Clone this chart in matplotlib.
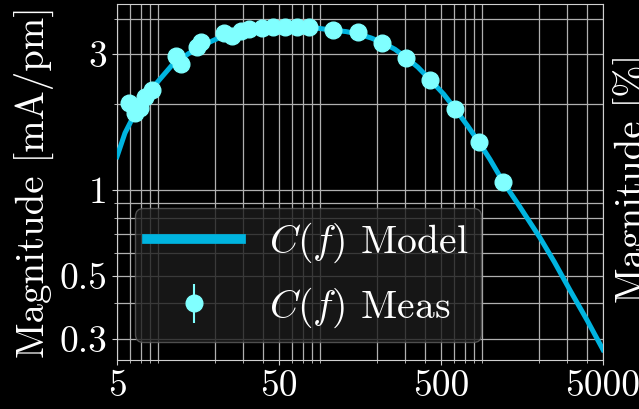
import numpy as np
import matplotlib
matplotlib.use('Agg')
import matplotlib.pyplot as plt
from matplotlib.ticker import FixedLocator, FixedFormatter, LogLocator, NullFormatter

plt.rcParams['font.family'] = 'serif'
plt.rcParams['font.serif'] = ['cmr10']
plt.rcParams['mathtext.fontset'] = 'cm'
plt.rcParams['axes.unicode_minus'] = False
plt.rcParams['axes.formatter.use_mathtext'] = True

# Model curve
model_freq = [5, 5.6, 6.46, 7.44, 9.09, 10.9, 13.9, 18.5, 22, 26, 30, 35, 40, 48, 55, 65, 77,
              90, 108, 130, 154, 185, 216, 260, 304, 360, 428, 520, 610, 730, 859, 1004,
              1207, 1500, 2041, 2500, 3127, 4000, 5000]
model_mag = [1.31, 1.585, 1.86, 2.12, 2.43, 2.74, 3.02, 3.30, 3.45, 3.55, 3.62, 3.67, 3.70,
             3.73, 3.74, 3.74, 3.72, 3.69, 3.64, 3.60, 3.53, 3.42, 3.30, 3.12, 2.92, 2.70,
             2.44, 2.17, 1.93, 1.68, 1.47, 1.28, 1.07, 0.89, 0.68, 0.56, 0.445, 0.348, 0.275]

# Measurements
meas_freq = [5.93, 6.46, 6.93, 7.44, 8.22, 11.6, 12.4, 15.6, 16.5, 22.9, 25.6, 29.1, 32.6,
             39.3, 45.9, 54.5, 64.6, 76.6, 108, 154, 216, 304, 428, 610, 859, 1207]
meas_mag = [2.02, 1.86, 1.94, 2.12, 2.24, 2.95, 2.77, 3.17, 3.31, 3.56, 3.47, 3.61, 3.67,
            3.70, 3.73, 3.73, 3.73, 3.73, 3.64, 3.58, 3.28, 2.90, 2.43, 1.92, 1.47, 1.07]
meas_err = [0.03] * len(meas_freq)

x_ticks = [5, 50, 500, 5000]
x_tick_labels = ['5', '50', '500', '5000']
y_ticks = [0.3, 0.5, 1, 3]
y_tick_labels = ['0.3', '0.5', '1', '3']

line_color = '#00b4e0'
meas_color = '#80ffff'
fs = 27

fig = plt.figure(figsize=(6.39, 4.09), dpi=100, facecolor='black')
ax = fig.add_axes([117/639, 49/409, 486/639, 356/409])
ax.set_facecolor('black')
ax.set_xscale('log')
ax.set_yscale('log')

ax.plot(model_freq, model_mag, color=line_color, lw=3.6, label=r'$C(f)$ Model', zorder=3)
ax.errorbar(meas_freq, meas_mag, yerr=meas_err, fmt='o', color=meas_color, ms=12,
            elinewidth=1.5, label=r'$C(f)$ Meas', zorder=4)

ax.set_xlim(5, 5000)
ax.set_ylim(0.253, 4.5)

ax.xaxis.set_major_locator(FixedLocator(x_ticks))
ax.xaxis.set_major_formatter(FixedFormatter(x_tick_labels))
ax.xaxis.set_minor_locator(LogLocator(base=10, subs=np.arange(2, 10), numticks=30))
ax.xaxis.set_minor_formatter(NullFormatter())
ax.yaxis.set_major_locator(FixedLocator(y_ticks))
ax.yaxis.set_major_formatter(FixedFormatter(y_tick_labels))
ax.yaxis.set_minor_locator(LogLocator(base=10, subs=np.arange(2, 10), numticks=30))
ax.yaxis.set_minor_formatter(NullFormatter())

ax.set_axisbelow(True)
ax.grid(True, which='both', color='#b0b0b0', lw=0.9)
ax.tick_params(which='both', colors='#d0d0d0', labelcolor='white', labelsize=fs)
for s in ax.spines.values():
    s.set_color('#d0d0d0')

fig.text(34/639, 1 - 182/409, 'Magnitude [mA/pm]', rotation=90, ha='center', va='center',
         color='white', fontsize=28)
fig.text(614/639, 1 - 178/409, 'Magnitude [%]', rotation=90, ha='left', va='center',
         color='white', fontsize=28)

leg = ax.legend(loc='lower left', fontsize=28.5, facecolor='#1c1c1c', edgecolor='#606060',
                framealpha=0.8, handlelength=2.35, handletextpad=0.72, borderpad=0.32,
                borderaxespad=0.45, labelcolor='white')
leg.legend_handles[0].set_linewidth(7)

fig.savefig('out.png', dpi=100, facecolor='black')
